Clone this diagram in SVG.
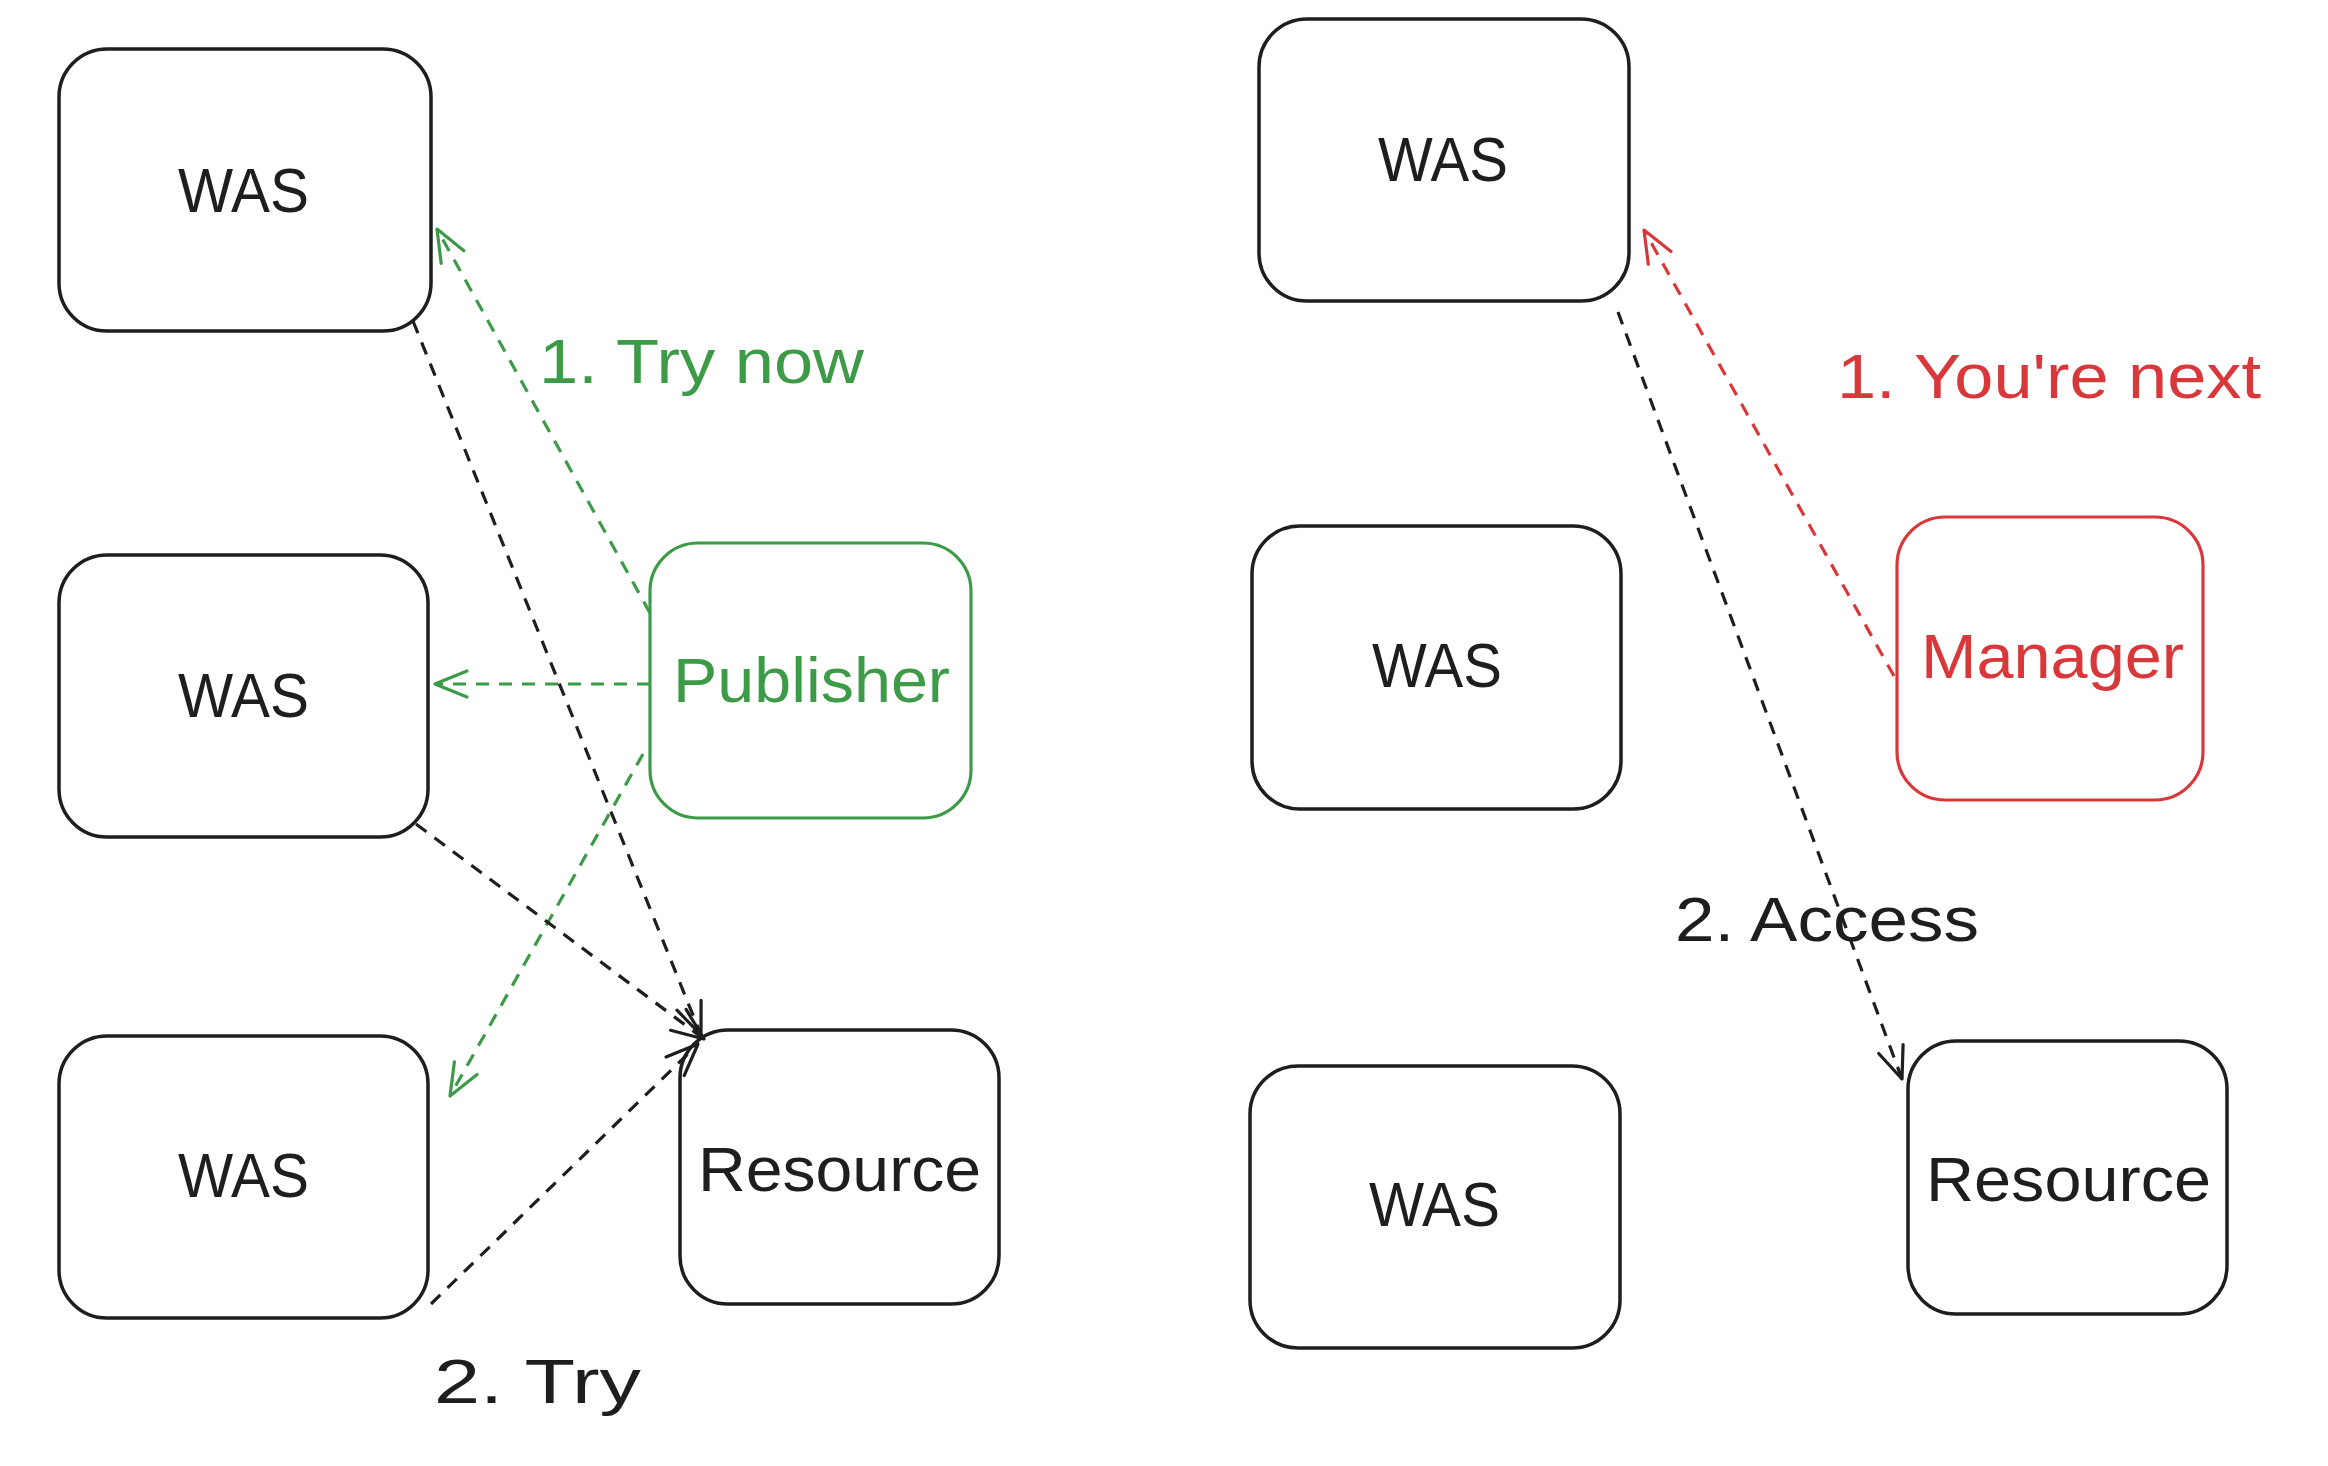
<svg xmlns="http://www.w3.org/2000/svg" width="2328" height="1466" viewBox="0 0 2328 1466">
<style>
.box{fill:#ffffff;stroke:#1e1e1e;stroke-width:3.5}
.gbox{fill:#ffffff;stroke:#3d9a47;stroke-width:3.2}
.rbox{fill:#ffffff;stroke:#d9383a;stroke-width:3.2}
text{font-family:"Liberation Sans","Noto Sans",sans-serif;font-size:63px;fill:#1e1e1e}
.g{fill:#3d9a47}
.r{fill:#d9383a}
.c{fill:none;stroke-width:3.2;stroke-dasharray:13 10}
.ck{stroke:#1e1e1e}
.cg{stroke:#3d9a47}
.cr{stroke:#d9383a}
</style>
<defs>
<marker id="ak" markerUnits="userSpaceOnUse" orient="auto" refX="0" refY="0" overflow="visible"><path d="M-32,-13 L0,0 L-32,13" fill="none" stroke="#1e1e1e" stroke-width="3.2" stroke-linecap="round" stroke-linejoin="round"/></marker>
<marker id="ag" markerUnits="userSpaceOnUse" orient="auto" refX="0" refY="0" overflow="visible"><path d="M-32,-13 L0,0 L-32,13" fill="none" stroke="#3d9a47" stroke-width="3.2" stroke-linecap="round" stroke-linejoin="round"/></marker>
<marker id="ar" markerUnits="userSpaceOnUse" orient="auto" refX="0" refY="0" overflow="visible"><path d="M-32,-13 L0,0 L-32,13" fill="none" stroke="#d9383a" stroke-width="3.2" stroke-linecap="round" stroke-linejoin="round"/></marker>
</defs>

<g id="was-l1"><rect class="box" x="59" y="49" width="372" height="282" rx="48"/><text x="178" y="212" textLength="131" lengthAdjust="spacingAndGlyphs">WAS</text></g>
<g id="was-l2"><rect class="box" x="59" y="555" width="369" height="282" rx="48"/><text x="178" y="717" textLength="131" lengthAdjust="spacingAndGlyphs">WAS</text></g>
<g id="was-l3"><rect class="box" x="59" y="1036" width="369" height="282" rx="48"/><text x="178" y="1197" textLength="131" lengthAdjust="spacingAndGlyphs">WAS</text></g>
<g id="publisher"><rect class="gbox" x="650" y="543" width="321" height="275" rx="48"/><text class="g" x="673" y="702" textLength="277" lengthAdjust="spacingAndGlyphs">Publisher</text></g>
<g id="resource-l"><rect class="box" x="680" y="1030" width="319" height="274" rx="48"/><text x="698" y="1191" textLength="283" lengthAdjust="spacingAndGlyphs">Resource</text></g>

<g id="was-r1"><rect class="box" x="1259" y="19" width="370" height="282" rx="48"/><text x="1378" y="181" textLength="130" lengthAdjust="spacingAndGlyphs">WAS</text></g>
<g id="was-r2"><rect class="box" x="1252" y="526" width="369" height="283" rx="48"/><text x="1372" y="687" textLength="130" lengthAdjust="spacingAndGlyphs">WAS</text></g>
<g id="was-r3"><rect class="box" x="1250" y="1066" width="370" height="282" rx="48"/><text x="1369" y="1226" textLength="131" lengthAdjust="spacingAndGlyphs">WAS</text></g>
<g id="manager"><rect class="rbox" x="1897" y="517" width="306" height="283" rx="48"/><text class="r" x="1921" y="678" textLength="263" lengthAdjust="spacingAndGlyphs">Manager</text></g>
<g id="resource-r"><rect class="box" x="1908" y="1041" width="319" height="273" rx="48"/><text x="1926" y="1201" textLength="285" lengthAdjust="spacingAndGlyphs">Resource</text></g>

<g id="connectors">
<line class="c cg" x1="650" y1="613" x2="437" y2="229" marker-end="url(#ag)"/>
<line class="c cg" x1="650" y1="684" x2="435" y2="684" marker-end="url(#ag)"/>
<line class="c cg" x1="643" y1="754" x2="450" y2="1096" marker-end="url(#ag)"/>
<line class="c ck" x1="413" y1="321" x2="701" y2="1035" marker-end="url(#ak)"/>
<line class="c ck" x1="416" y1="824" x2="704" y2="1039" marker-end="url(#ak)"/>
<line class="c ck" x1="431" y1="1304" x2="698" y2="1044" marker-end="url(#ak)"/>
<line class="c cr" x1="1894" y1="676" x2="1644" y2="230" marker-end="url(#ar)"/>
<line class="c ck" x1="1618" y1="312" x2="1902" y2="1079" marker-end="url(#ak)"/>
<text class="g" x="539" y="383" textLength="325" lengthAdjust="spacingAndGlyphs">1. Try now</text>
<text x="434" y="1403" textLength="207" lengthAdjust="spacingAndGlyphs">2. Try</text>
<text class="r" x="1837" y="398" textLength="424" lengthAdjust="spacingAndGlyphs">1. You're next</text>
<text x="1675" y="941" textLength="304" lengthAdjust="spacingAndGlyphs">2. Access</text>
</g>
</svg>
